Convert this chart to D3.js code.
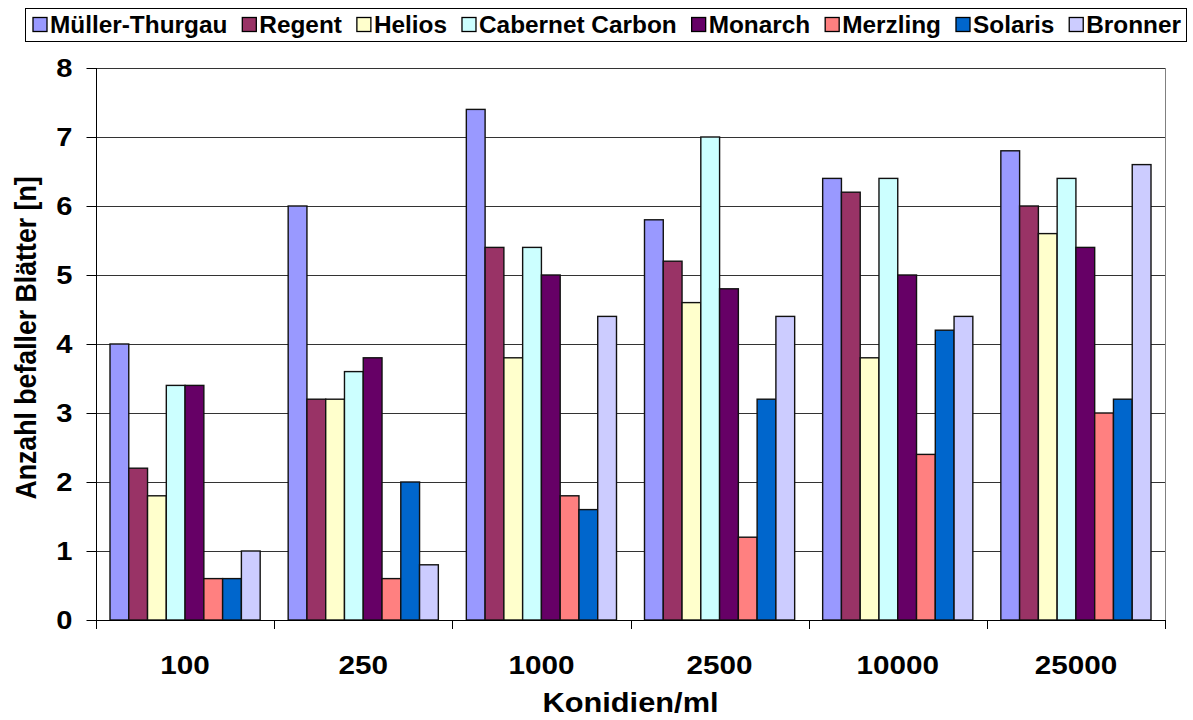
<!DOCTYPE html>
<html><head><meta charset="utf-8">
<script src="https://cdn.jsdelivr.net/npm/d3@7"></script>
<style>body{margin:0;background:#fff}svg{display:block;font-family:Arial,"Liberation Sans",sans-serif}</style>
</head><body><svg id="c" width="1193" height="720"></svg>
<script>
const categories = ["100","250","1000","2500","10000","25000"];
const seriesNames = ["Müller-Thurgau","Regent","Helios","Cabernet Carbon","Monarch","Merzling","Solaris","Bronner"];
const colors = ["#9999FF","#993366","#FFFFCC","#CCFFFF","#660066","#FF8080","#0066CC","#CCCCFF"];
const mullerThurgau = [4.0,6.0,7.4,5.8,6.4,6.8];
const regent = [2.2,3.2,5.4,5.2,6.2,6.0];
const helios = [1.8,3.2,3.8,4.6,3.8,5.6];
const cabernetCarbon = [3.4,3.6,5.4,7.0,6.4,6.4];
const monarch = [3.4,3.8,5.0,4.8,5.0,5.4];
const merzling = [0.6,0.6,1.8,1.2,2.4,3.0];
const solaris = [0.6,2.0,1.6,3.2,4.2,3.2];
const bronner = [1.0,0.8,4.4,4.4,4.4,6.6];
const yTicks = [0,1,2,3,4,5,6,7,8];
const series = [mullerThurgau,regent,helios,cabernetCarbon,monarch,merzling,solaris,bronner];

const FONT = "Arial, 'Liberation Sans', sans-serif";
const SX = 1.12;
const svg = d3.select("#c");
const m = {l:96, r:1165, t:68, b:620};
const x0 = d3.scaleBand().domain(categories).range([m.l, m.r]).paddingInner(0).paddingOuter(0);
const innerPad = 14;
const x1 = d3.scaleBand().domain(seriesNames).range([innerPad, x0.bandwidth()-innerPad]).paddingInner(0).paddingOuter(0);
const y = d3.scaleLinear().domain([0,8]).range([m.b, m.t]);

// gridlines
svg.append("g").selectAll("line").data(yTicks.filter(d=>d>0)).join("line")
  .attr("x1", m.l).attr("x2", m.r).attr("y1", d=>Math.round(y(d))+0.5).attr("y2", d=>Math.round(y(d))+0.5)
  .attr("stroke","#333").attr("stroke-width",1);
// right border
svg.append("line").attr("x1",m.r+0.5).attr("x2",m.r+0.5).attr("y1",m.t).attr("y2",m.b)
  .attr("stroke","#808080");

// bars
const g = svg.append("g");
categories.forEach((c,ci)=>{
  seriesNames.forEach((s,si)=>{
    const v = series[si][ci];
    g.append("rect").attr("x", x0(c)+x1(s)).attr("y", y(v))
      .attr("width", x1.bandwidth()).attr("height", y(0)-y(v))
      .attr("fill", colors[si]).attr("stroke","#111").attr("stroke-width",1.4);
  });
});

// y axis
const tickLen = 10, yPad = 24;
const ya = svg.append("g").attr("transform",`translate(${m.l+0.5},0)`)
  .call(d3.axisLeft(y).tickValues(yTicks).tickSize(tickLen).tickPadding(yPad-tickLen).tickFormat(d3.format("d")));
ya.select(".domain").attr("stroke","#000").attr("d",`M0,${m.t}V${m.b}`);
ya.selectAll("line").attr("stroke","#000");
ya.selectAll("text").attr("font-size",26).attr("font-weight","bold").attr("fill","#000").attr("font-family",FONT)
  .attr("x", -yPad/SX).attr("transform",`scale(${SX},1)`);

// x axis
const xa = svg.append("g").attr("transform",`translate(0,${m.b+0.5})`)
  .call(d3.axisBottom(x0).tickSize(0).tickPadding(0));
xa.select(".domain").attr("stroke","#000").attr("d",`M${m.l},0H${m.r}`);
xa.selectAll("text").attr("font-size",26.5).attr("font-weight","bold").attr("fill","#000").attr("font-family",FONT)
  .attr("dy",null).attr("y",54).attr("transform",`scale(${SX},1)`);
// boundary ticks
const bounds = categories.map(c=>x0(c)).concat([m.r]);
svg.append("g").selectAll("line").data(bounds).join("line")
  .attr("x1",d=>Math.round(d)+0.5).attr("x2",d=>Math.round(d)+0.5).attr("y1",m.b).attr("y2",m.b+9)
  .attr("stroke","#000");

// titles
svg.append("g").attr("transform",`translate(${(m.l+m.r)/2},712) scale(${SX},1)`)
  .append("text").attr("text-anchor","middle").attr("font-family",FONT)
  .attr("font-size",27.5).attr("font-weight","bold").text("Konidien/ml");
svg.append("g").attr("transform",`translate(36,338) rotate(-90) scale(1,${SX})`)
  .append("text").attr("text-anchor","middle").attr("font-family",FONT)
  .attr("font-size",26.7).attr("font-weight","bold").text("Anzahl befaller Blätter [n]");

// legend
const lg = svg.append("g");
lg.append("rect").attr("x",25.5).attr("y",8.5).attr("width",1161).attr("height",33)
  .attr("fill","#fff").attr("stroke","#000").attr("stroke-width",1);
const LSX = 1.06;
const items = lg.selectAll("g.it").data(seriesNames).join("g").attr("class","it");
items.append("rect").attr("width",14).attr("height",14).attr("y",-15.5)
  .attr("fill",(d,i)=>colors[i]).attr("stroke","#000").attr("stroke-width",1.3);
items.append("g").attr("transform",`translate(17,0) scale(${LSX},1)`)
  .append("text").attr("font-size",23).attr("font-weight","bold").attr("font-family",FONT).text(d=>d);
let widths = [];
items.each(function(){ widths.push(17 + LSX*d3.select(this).select("text").node().getComputedTextLength()); });
const startX = 33, endX = 1181;
const gap = (endX - startX - d3.sum(widths)) / (widths.length-1);
let xs = startX;
items.attr("transform",(d,i)=>{ const t=`translate(${xs},33)`; xs += widths[i]+gap; return t; });
</script></body></html>
